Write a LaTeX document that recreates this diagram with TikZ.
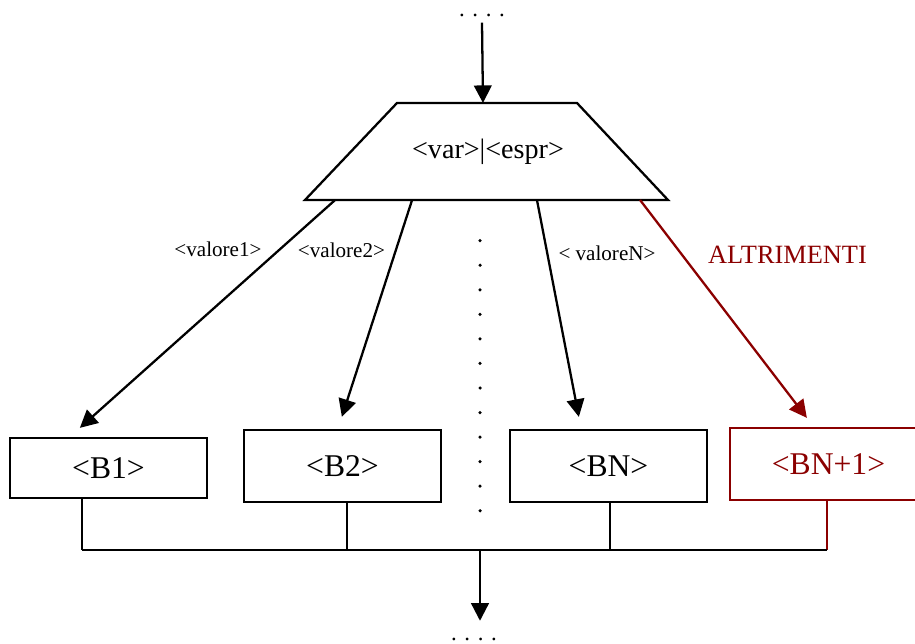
\documentclass[tikz,border=0pt]{standalone}
\usepackage{fontspec}
\setmainfont{Liberation Serif}
\usetikzlibrary{arrows.meta,positioning,calc}
\definecolor{altred}{HTML}{8B0000}

\begin{document}
\begin{tikzpicture}[
  blk/.style={draw,line width=1.3pt,minimum width=3.94cm,minimum height=1.44cm,inner sep=0pt,font=\fontsize{18}{21}\selectfont},
  lbl/.style={font=\fontsize{12}{14}\selectfont,inner sep=0pt},
  dts/.style={font=\fontsize{13}{15}\selectfont,anchor=base,inner sep=0pt},
  arr/.style={-{Triangle[length=10pt,width=10pt]},line width=1.3pt},
  wire/.style={line width=0.7pt}]
\useasboundingbox (0,0) rectangle (18.3,-12.88);
\node[dts] (dotsin) at (9.64,-0.34) {. . . .};
% selector shape
\coordinate (swtl) at (7.94,-2.06);
\coordinate (swtr) at (11.54,-2.06);
\coordinate (swbl) at (6.10,-4.00);
\coordinate (swbr) at (13.36,-4.00);
\draw[line width=1.3pt,line join=miter] (swbl) -- (swtl) -- (swtr) -- (swbr) -- cycle;
\node[font=\fontsize{16}{19}\selectfont] (sw) at (9.76,-3.03) {<var>|<espr>};
\node[blk,minimum height=1.2cm] (b1) at (2.17,-9.36) {<B1>};
\node[blk] (b2) at (6.85,-9.32) {<B2>};
\node[blk] (bn) at (12.17,-9.32) {<BN>};
\node[blk,draw=altred,text=altred] (bn1) at (16.57,-9.28) {<BN+1>};
\node[dts] (dotsout) at (9.48,-12.81) {. . . .};
% labels on the branches
\node[lbl] (l1) at (4.36,-4.98) {<valore1>};
\node[lbl] (l2) at (6.83,-5.00) {<valore2>};
\node[lbl] (ln) at (12.14,-5.06) {< valoreN>};
\node[lbl,text=altred,font=\fontsize{15}{18}\selectfont] (lelse) at (15.75,-5.10) {ALTRIMENTI};
% ellipsis between branches
\foreach \i in {0,...,11}
  \fill (9.60,-4.814-0.491*\i) circle (0.035);
\draw[arr] ([yshift=-0.1cm]dotsin.south) -- ([xshift=-0.1cm]swtl -| sw.north);
\draw[arr] ($(swbl)!0.083!(swbr)$) -- ($(b1.north west)+(1.42,0.18)$);
\draw[arr] ($(swbl)!0.295!(swbr)$) -- ($(b2.north west)+(1.98,0.24)$);
\draw[arr] ($(swbl)!0.639!(swbr)$) -- ($(bn.north west)+(1.40,0.24)$);
\draw[arr,altred] ($(swbl)!0.923!(swbr)$) -- ($(bn1.north west)+(1.56,0.18)$);
% joining bus
\coordinate (busL) at (1.64,-11.0);
\coordinate (busM) at (9.60,-11.0);
\coordinate (busR) at (16.54,-11.0);
\draw[wire] (b1.south -| busL) -- (busL);
\draw[wire] ([xshift=0.09cm]b2.south) -- ([xshift=0.09cm]b2.south |- busM);
\draw[wire] ([xshift=0.03cm]bn.south) -- ([xshift=0.03cm]bn.south |- busM);
\draw[wire,altred] (bn1.south -| busR) -- (busR);
\draw[line width=1.3pt] (busL) -- (busR);
\draw[arr] (busM) -- ([yshift=0.34cm]busM |- dotsout.north);
\end{tikzpicture}
\end{document}
